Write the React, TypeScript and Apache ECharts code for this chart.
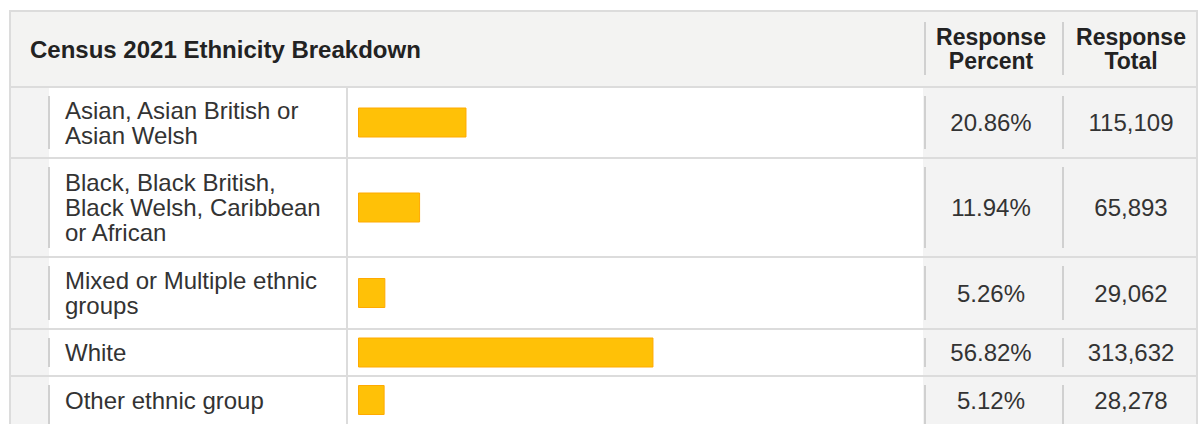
import React, { useEffect, useRef } from "react";
import * as echarts from "echarts";

// ---- data ----
const title = "Census 2021 Ethnicity Breakdown";
const columnHeaders = ["Response\nPercent", "Response\nTotal"];
const categories = [
  "Asian, Asian British or\nAsian Welsh",
  "Black, Black British,\nBlack Welsh, Caribbean\nor African",
  "Mixed or Multiple ethnic\ngroups",
  "White",
  "Other ethnic group",
];
const percents = [20.86, 11.94, 5.26, 56.82, 5.12];
const totals = [115109, 65893, 29062, 313632, 28278];

// ---- layout ----
const FONT = '"Liberation Sans", Arial, Helvetica, sans-serif';
const headerBottom = 87;
const rowHeights = [71, 99, 72, 47, 49];
const labelX = 65;
const barLeft = 358;
const barSpan = 520;
const colSplit = 347;
const indentLine = 49;
const valueLeft = 923;
const sep1 = 925;
const sep2 = 1063;
const rightEdge = 1197;
const pctCenter = 991;
const totCenter = 1131;
const textColor = "#333333";
const borderColor = "#dcdcdc";
const segColor = "#d0d0d0";

export default function App() {
  const ref = useRef<HTMLDivElement>(null);

  useEffect(() => {
    if (!ref.current) return;
    const chart = echarts.init(ref.current, undefined, { renderer: "svg" });

    const rowTops: number[] = [];
    let acc = headerBottom;
    rowHeights.forEach((h) => {
      rowTops.push(acc);
      acc += h;
    });

    const grids = rowTops.map((t, i) => ({
      left: barLeft,
      top: t,
      width: barSpan,
      height: rowHeights[i],
      containLabel: false,
    }));
    const xAxes = rowTops.map((_, i) => ({
      type: "value",
      gridIndex: i,
      min: 0,
      max: 100,
      show: false,
    }));
    const yAxes = rowTops.map((_, i) => ({
      type: "category",
      gridIndex: i,
      data: [categories[i]],
      z: 10,
      axisLine: { show: false },
      axisTick: { show: false },
      splitLine: { show: false },
      axisLabel: {
        align: "left",
        margin: barLeft - labelX,
        color: textColor,
        fontSize: 24,
        fontFamily: FONT,
        lineHeight: 25,
        verticalAlign: "middle",
      },
    }));
    const series = rowTops.map((_, i) => ({
      type: "bar",
      xAxisIndex: i,
      yAxisIndex: i,
      data: [percents[i]],
      barWidth: 30,
      itemStyle: { color: "#FFC107", borderColor: "#FFAA00", borderWidth: 1 },
      z: 5,
    }));

    const graphic: any[] = [];
    // outer table
    graphic.push({
      type: "rect",
      z: -10,
      shape: { x: 10, y: 11, width: rightEdge - 10, height: 430 },
      style: { fill: "#ffffff", stroke: borderColor, lineWidth: 2 },
    });
    // header background
    graphic.push({
      type: "rect",
      z: -9,
      shape: { x: 11, y: 12, width: rightEdge - 12, height: headerBottom - 13 },
      style: { fill: "#f3f3f2" },
    });
    // left indent column
    graphic.push({
      type: "rect",
      z: -9,
      shape: { x: 11, y: headerBottom + 1, width: indentLine - 11, height: 400 },
      style: { fill: "#f3f3f3" },
    });
    // value columns
    graphic.push({
      type: "rect",
      z: -9,
      shape: { x: valueLeft, y: headerBottom + 1, width: rightEdge - 1 - valueLeft, height: 400 },
      style: { fill: "#f3f3f3" },
    });
    // horizontal borders
    const lineYs = [headerBottom, ...rowTops.slice(1)];
    lineYs.forEach((y) => {
      graphic.push({
        type: "line",
        z: -8,
        shape: { x1: 10, y1: y, x2: rightEdge, y2: y },
        style: { stroke: borderColor, lineWidth: 2 },
      });
    });
    // full vertical between label and bar cell
    graphic.push({
      type: "line",
      z: -8,
      shape: { x1: colSplit, y1: headerBottom + 1, x2: colSplit, y2: 440 },
      style: { stroke: borderColor, lineWidth: 2 },
    });
    // short segments per row
    rowTops.forEach((t, i) => {
      const y1 = t + 9;
      const y2 = i === rowTops.length - 1 ? 440 : t + rowHeights[i] - 9;
      [indentLine, sep1, sep2].forEach((x) => {
        graphic.push({
          type: "line",
          z: -7,
          shape: { x1: x, y1, x2: x, y2 },
          style: { stroke: segColor, lineWidth: 2 },
        });
      });
    });
    // header separators
    [sep1, sep2].forEach((x) => {
      graphic.push({
        type: "line",
        z: -7,
        shape: { x1: x, y1: 22, x2: x, y2: 75 },
        style: { stroke: segColor, lineWidth: 2 },
      });
    });
    // header texts
    const headerMid = (11 + headerBottom) / 2;
    graphic.push({
      type: "text",
      z: 20,
      x: 30,
      y: headerMid,
      style: {
        text: title,
        fill: "#222222",
        fontSize: 24,
        fontWeight: "bold",
        fontFamily: FONT,
        align: "left",
        verticalAlign: "middle",
      },
    });
    [pctCenter, totCenter].forEach((cx, j) => {
      graphic.push({
        type: "text",
        z: 20,
        x: cx,
        y: headerMid,
        style: {
          text: columnHeaders[j],
          fill: "#222222",
          fontSize: 23,
          fontWeight: "bold",
          fontFamily: FONT,
          lineHeight: 24,
          align: "center",
          verticalAlign: "middle",
        },
      });
    });
    // value texts
    rowTops.forEach((t, i) => {
      const cy = t + rowHeights[i] / 2;
      graphic.push({
        type: "text",
        z: 20,
        x: pctCenter,
        y: cy,
        style: {
          text: percents[i].toFixed(2) + "%",
          fill: textColor,
          fontSize: 24,
          fontFamily: FONT,
          align: "center",
          verticalAlign: "middle",
        },
      });
      graphic.push({
        type: "text",
        z: 20,
        x: totCenter,
        y: cy,
        style: {
          text: totals[i].toLocaleString("en-US"),
          fill: textColor,
          fontSize: 24,
          fontFamily: FONT,
          align: "center",
          verticalAlign: "middle",
        },
      });
    });

    chart.setOption({
      animation: false,
      grid: grids,
      xAxis: xAxes,
      yAxis: yAxes,
      series,
      graphic: { elements: graphic },
    });

    return () => chart.dispose();
  }, []);

  return (
    <div
      ref={ref}
      style={{ position: "fixed", left: 0, top: 0, width: 1199, height: 424, background: "#ffffff" }}
    />
  );
}
